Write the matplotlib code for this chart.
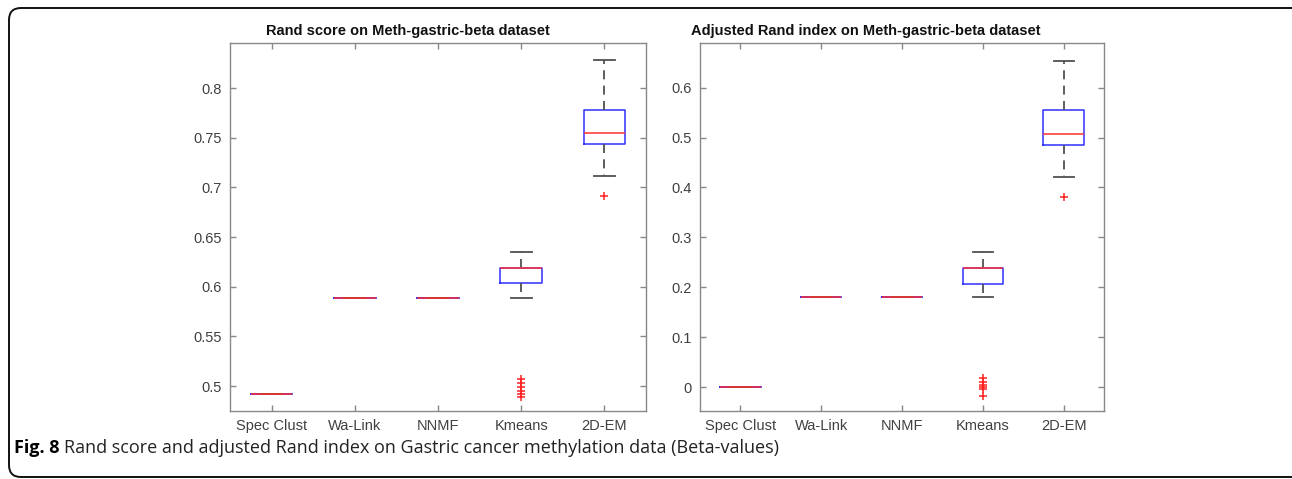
import matplotlib
matplotlib.use("Agg")
import matplotlib.pyplot as plt
from matplotlib.patches import FancyBboxPatch

methods = ["Spec Clust", "Wa-Link", "NNMF", "Kmeans", "2D-EM"]

# Rand score
rand_q1 = [0.492, 0.589, 0.589, 0.6036, 0.7436]
rand_med = [0.492, 0.589, 0.589, 0.619, 0.7547]
rand_q3 = [0.492, 0.589, 0.589, 0.619, 0.7781]
rand_lo = [0.492, 0.589, 0.589, 0.589, 0.7117]
rand_hi = [0.492, 0.589, 0.589, 0.6354, 0.8278]
rand_out = [[], [], [], [0.507, 0.503, 0.499, 0.495, 0.492, 0.4895], [0.6915]]

# Adjusted Rand index
ari_q1 = [0.0, 0.181, 0.181, 0.207, 0.486]
ari_med = [0.0, 0.181, 0.181, 0.2387, 0.508]
ari_q3 = [0.0, 0.181, 0.181, 0.2387, 0.555]
ari_lo = [0.0, 0.181, 0.181, 0.1797, 0.4217]
ari_hi = [0.0, 0.181, 0.181, 0.2715, 0.654]
ari_out = [[], [], [], [0.019, 0.011, 0.004, 0.0, -0.003, -0.017], [0.381]]

font = ["Liberation Sans Narrow", "Liberation Sans", "DejaVu Sans"]
plt.rcParams["font.family"] = font

fig = plt.figure(figsize=(12.92, 4.79), dpi=100)

ax1 = fig.add_axes([230 / 1292, 68 / 479, 416 / 1292, 367.7 / 479])
ax2 = fig.add_axes([700 / 1292, 68 / 479, 404 / 1292, 367.7 / 479])


def stats(q1, med, q3, lo, hi, out):
    return [dict(q1=a, med=b, q3=c, whislo=d, whishi=e, fliers=f, label=m)
            for a, b, c, d, e, f, m in zip(q1, med, q3, lo, hi, out, methods)]


def draw(ax, st, title, tx, ylim, yticks, ylabels):
    ax.bxp(st, positions=range(1, 6), widths=0.5, capwidths=0.25,
           boxprops=dict(color="#3030ff", lw=1.1),
           medianprops=dict(color="#ff3030", lw=1.1),
           whiskerprops=dict(color="#505050", lw=1.3, linestyle=(0, (5, 3.5))),
           capprops=dict(color="#505050", lw=1.3),
           flierprops=dict(marker="+", markeredgecolor="#ff2020",
                           markersize=6, markeredgewidth=1.1))
    ax.set_xlim(0.5, 5.5)
    ax.set_ylim(*ylim)
    ax.set_yticks(yticks)
    ax.set_yticklabels(ylabels)
    ax.set_xticks(range(1, 6))
    ax.set_xticklabels(methods)
    ax.tick_params(direction="in", top=True, right=True, length=4,
                   colors="#888888", labelcolor="#404040", labelsize=10.5,
                   width=1)
    ax.tick_params(axis="x", pad=6)
    ax.tick_params(axis="y", pad=6)
    for s in ax.spines.values():
        s.set_color("#888888")
        s.set_linewidth(1)
    ax.text(tx, 1.015, title, transform=ax.transAxes, ha="center",
            va="bottom", fontsize=10.5, fontweight="bold", color="#111111")


draw(ax1, stats(rand_q1, rand_med, rand_q3, rand_lo, rand_hi, rand_out),
     "Rand score on Meth-gastric-beta dataset", 0.428, (0.475, 0.845),
     [0.5, 0.55, 0.6, 0.65, 0.7, 0.75, 0.8],
     ["0.5", "0.55", "0.6", "0.65", "0.7", "0.75", "0.8"])
draw(ax2, stats(ari_q1, ari_med, ari_q3, ari_lo, ari_hi, ari_out),
     "Adjusted Rand index on Meth-gastric-beta dataset", 0.411, (-0.048, 0.689),
     [0, 0.1, 0.2, 0.3, 0.4, 0.5, 0.6],
     ["0", "0.1", "0.2", "0.3", "0.4", "0.5", "0.6"])

# rounded frame around the figure
frame = FancyBboxPatch((0.09, 0.02), 13.2, 4.69,
                       boxstyle="round,pad=0,rounding_size=0.12",
                       transform=fig.dpi_scale_trans, fill=False,
                       edgecolor="#111111", lw=1.4)
fig.add_artist(frame)

# caption
cap_font = ["Open Sans", "DejaVu Sans"]
t1 = fig.text(14 / 1292, 1 - 448 / 479, "Fig. 8", family=cap_font,
              fontweight="bold", fontsize=13, va="center", ha="left")
fig.canvas.draw()
bb = t1.get_window_extent()
fig.text((bb.x1 + 5) / 1292, 1 - 448 / 479,
         "Rand score and adjusted Rand index on Gastric cancer methylation data (Beta-values)",
         family=cap_font, fontsize=13, va="center", ha="left", color="#222222")

fig.savefig("out.png", dpi=100)
